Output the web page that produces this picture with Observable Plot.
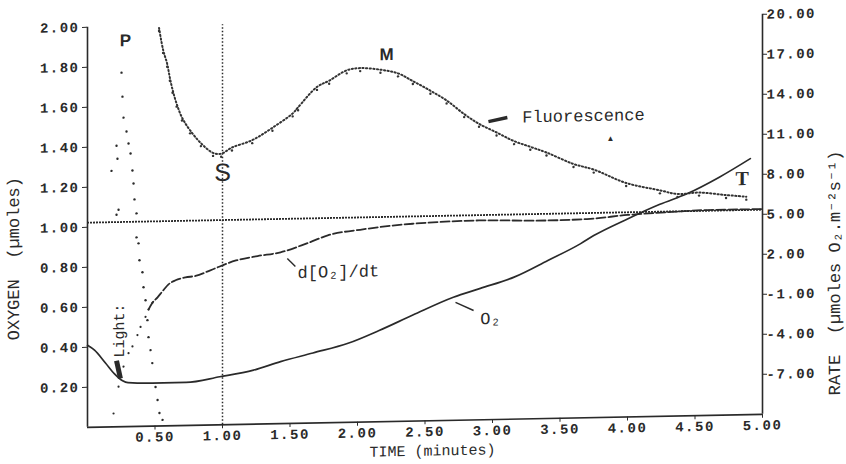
<!DOCTYPE html>
<html><head><meta charset="utf-8">
<script src="https://cdn.jsdelivr.net/npm/d3@7"></script>
<script src="https://cdn.jsdelivr.net/npm/@observablehq/plot@0.6"></script>
<style>
html,body{margin:0;padding:0;background:#fff;}
#chart svg{overflow:visible;display:block;transform:skewY(-1.1deg);transform-origin:0 0;background:#fff;}
#chart svg g[aria-label$="tick label"] text{letter-spacing:1.5px;}
</style></head><body><div id="chart"></div>
<script>
// ---- axis ticks / domains ----
const timeTicks = [0.5, 1, 1.5, 2, 2.5, 3, 3.5, 4, 4.5, 5];
const oxygenTicks = [0.2, 0.4, 0.6, 0.8, 1.0, 1.2, 1.4, 1.6, 1.8, 2.0];
const rateTicks = [-7, -4, -1, 2, 5, 8, 11, 14, 17, 20];
const timeDomain = [0, 5];
const oxygenDomain = [0, 2];
const rateDomain = [-10, 20];

// ---- O2 trace (left axis, µmoles) ----
const o2Time  = [0, 0.052, 0.133, 0.2, 0.26, 0.3, 0.48, 0.73, 0.98, 1.23, 1.43, 1.67, 1.93, 2.16, 2.41, 2.71, 2.91, 3.16, 3.41, 3.65, 3.75, 4.0, 4.24, 4.44, 4.68, 4.91];
const o2Value = [0.41, 0.385, 0.32, 0.265, 0.23, 0.22, 0.215, 0.215, 0.24, 0.27, 0.31, 0.35, 0.395, 0.456, 0.53, 0.615, 0.657, 0.71, 0.79, 0.87, 0.91, 0.99, 1.06, 1.11, 1.19, 1.28];

// ---- d[O2]/dt trace (right axis, rate) ----
const rateTime  = [0.193, 0.23, 0.267, 0.304, 0.333, 0.37, 0.393, 0.43, 0.452, 0.481, 0.519, 0.556, 0.6, 0.652, 0.726, 0.8, 0.91, 1.1, 1.26, 1.43, 1.63, 1.78, 2.04, 2.41, 2.9, 3.4, 3.7, 4.0, 4.3, 4.6, 5.0];
const rateValue = [-9.0, -7.0, -5.5, -4.5, -4.0, -3.15, -2.55, -1.8, -1.25, -0.75, -0.35, 0.1, 0.6, 0.9, 1.1, 1.2, 1.6, 2.3, 2.6, 2.85, 3.5, 4.05, 4.45, 4.8, 4.95, 4.85, 4.9, 5.15, 5.3, 5.4, 5.4];
const rateReference = 5.35;

// ---- Fluorescence trace (plotted on left-axis units) ----
const fluorTime  = [0.53, 0.56, 0.59, 0.61, 0.63, 0.66, 0.70, 0.76, 0.84, 0.93, 0.99, 1.07, 1.22, 1.37, 1.52, 1.56, 1.70, 1.79, 1.92, 2.02, 2.17, 2.30, 2.41, 2.54, 2.66, 2.79, 2.90, 3.03, 3.16, 3.28, 3.40, 3.60, 3.75, 3.99, 4.24, 4.37, 4.53, 4.73, 4.88];
const fluorValue = [1.99, 1.88, 1.81, 1.74, 1.68, 1.61, 1.54, 1.475, 1.41, 1.36, 1.355, 1.385, 1.42, 1.48, 1.55, 1.58, 1.68, 1.71, 1.76, 1.77, 1.76, 1.74, 1.70, 1.65, 1.60, 1.53, 1.48, 1.435, 1.39, 1.36, 1.33, 1.27, 1.24, 1.17, 1.13, 1.11, 1.115, 1.10, 1.09];
const spikeTime  = [0.178, 0.215, 0.23, 0.222, 0.215, 0.252, 0.259, 0.267, 0.289, 0.304, 0.319, 0.333, 0.341, 0.348, 0.363, 0.363, 0.378, 0.385, 0.407, 0.415, 0.43, 0.444, 0.452, 0.467, 0.48, 0.504, 0.519, 0.533, 0.556];
const spikeValue = [1.28, 1.06, 1.085, 1.34, 1.405, 1.77, 1.65, 1.545, 1.475, 1.415, 1.365, 1.28, 1.215, 1.135, 1.065, 0.945, 0.915, 0.83, 0.77, 0.695, 0.63, 0.53, 0.445, 0.38, 0.315, 0.195, 0.13, 0.065, 0.03];
const lightOnTime = 1.0;

// ---- annotation labels ----
const peakLabels = ["P", "M"];
const peakTime = [0.28, 2.215];
const peakLevel = [1.93, 1.835];

// ---- build tables ----
const toOxygen = r => (r - rateDomain[0]) / (rateDomain[1] - rateDomain[0]) * (oxygenDomain[1] - oxygenDomain[0]) + oxygenDomain[0];
const fromOxygen = o => (o - oxygenDomain[0]) / (oxygenDomain[1] - oxygenDomain[0]) * (rateDomain[1] - rateDomain[0]) + rateDomain[0];
const o2 = o2Time.map((t, i) => ({t, v: o2Value[i]}));
const rate = rateTime.map((t, i) => ({t, v: toOxygen(rateValue[i])}));
const fluor = fluorTime.map((t, i) => ({t, v: fluorValue[i]}));
const spike = spikeTime.map((t, i) => ({t, v: spikeValue[i]}));
const peaks = peakLabels.map((s, i) => ({s, t: peakTime[i], v: peakLevel[i]}));

const ink = "#2a2a2a";
const mono = "Liberation Mono, DejaVu Sans Mono, monospace";

const chart = Plot.plot({
  width: 846, height: 464,
  marginLeft: 87, marginRight: 84, marginTop: 28.5, marginBottom: 35.5,
  x: {domain: timeDomain},
  y: {domain: oxygenDomain},
  style: {background: "#fff", color: ink},
  marks: [
    // frame
    Plot.ruleX([timeDomain[0], timeDomain[1]], {y1: oxygenDomain[0], y2: oxygenDomain[1], stroke: ink, strokeWidth: 1.6}),
    Plot.ruleY([oxygenDomain[0]], {x1: timeDomain[0], x2: timeDomain[1], stroke: ink, strokeWidth: 1.6}),
    // light-on marker and reference line
    Plot.ruleX([lightOnTime], {y1: oxygenDomain[0], y2: oxygenDomain[1], stroke: ink, strokeWidth: 1.5, strokeDasharray: "1.5,2"}),
    Plot.ruleY([toOxygen(rateReference)], {x1: timeDomain[0], x2: timeDomain[1], stroke: ink, strokeWidth: 1.8, strokeDasharray: "2,1"}),
    // O2 trace
    Plot.line(o2, {x: "t", y: "v", stroke: ink, strokeWidth: 1.7, curve: "monotone-x"}),
    // rate trace
    Plot.dot(rate.filter(d => d.t < 0.5), {x: "t", y: "v", r: 1.1, fill: ink, stroke: null}),
    Plot.line(rate.filter(d => d.t >= 0.45), {x: "t", y: "v", stroke: ink, strokeWidth: 1.8, strokeDasharray: "9,3", curve: "monotone-x"}),
    // fluorescence
    Plot.line(fluor, {x: "t", y: "v", stroke: "#333", strokeWidth: 2, strokeDasharray: "1.2,2.4", curve: "catmull-rom"}),
    Plot.dot(fluor, {x: "t", y: "v", r: 1.2, fill: "#333", stroke: null, dy: 3}),
    Plot.dot(spike, {x: "t", y: "v", r: 1.2, fill: ink, stroke: null}),
    // axes
    Plot.axisX(timeTicks, {anchor: "bottom", tickSize: 4, tickPadding: 1.5, tickFormat: d => d.toFixed(2), fontSize: 14, fontWeight: "bold", fontFamily: mono, label: null}),
    Plot.axisY(oxygenTicks, {anchor: "left", tickSize: 5, tickPadding: 3, tickFormat: d => d.toFixed(2), fontSize: 14, fontWeight: "bold", fontFamily: mono, label: null}),
    Plot.axisY(rateTicks.map(toOxygen), {anchor: "right", tickSize: 4, tickPadding: 0, tickFormat: d => fromOxygen(d).toFixed(2), fontSize: 14, fontWeight: "bold", fontFamily: mono, label: null}),
    // axis titles
    Plot.text(["OXYGEN  (µmoles)"], {text: d => d, frameAnchor: "left", textAnchor: "middle", dx: -73.5, dy: 30, rotate: -90, fontSize: 17, fontFamily: mono, fill: ink}),
    Plot.text(["RATE  (µmoles O₂.m⁻²s⁻¹)"], {text: d => d, frameAnchor: "right", textAnchor: "middle", dx: 72, dy: 60, rotate: -90, fontSize: 17, fontFamily: mono, fill: ink}),
    Plot.text(["TIME (minutes)"], {text: d => d, frameAnchor: "bottom", textAnchor: "middle", dx: 7.5, dy: 34.8, fontSize: 15, fontFamily: mono, fill: ink}),
    // annotations
    Plot.text(peaks, {x: "t", y: "v", text: "s", fontSize: 17, fontWeight: "bold", fontFamily: "Liberation Sans, sans-serif", fill: ink}),
    Plot.text(["S"], {x: lightOnTime, y: 1.26, text: d => d, fontSize: 25, fontFamily: "Liberation Sans, sans-serif", fill: ink}),
    Plot.text(["T"], {x: 4.85, y: 1.18, text: d => d, fontSize: 20, fontWeight: "bold", fontFamily: "Liberation Serif, serif", fill: ink}),
    Plot.text(["Fluorescence"], {x: 3.22, y: 1.51, text: d => d, textAnchor: "start", fontSize: 17, fontFamily: mono, fill: ink}),
    Plot.link([{x1: 2.97, y1: 1.49, x2: 3.11, y2: 1.509}], {x1: "x1", y1: "y1", x2: "x2", y2: "y2", stroke: ink, strokeWidth: 3.5}),
    Plot.text(["▲"], {x: 3.874, y: 1.394, text: d => d, fontSize: 8, fill: ink}),
    Plot.text(["Light:"], {x: 0.237, y: 0.48, text: d => d, rotate: -90, fontSize: 15, fontFamily: mono, fill: ink}),
    Plot.link([{x1: 0.215, y1: 0.33, x2: 0.244, y2: 0.241}], {x1: "x1", y1: "y1", x2: "x2", y2: "y2", stroke: ink, strokeWidth: 5}),
    Plot.text(["d[O₂]/dt"], {x: 1.556, y: 0.754, text: d => d, textAnchor: "start", fontSize: 17, fontFamily: mono, fill: ink}),
    Plot.link([{x1: 1.48, y1: 0.825, x2: 1.54, y2: 0.784}], {x1: "x1", y1: "y1", x2: "x2", y2: "y2", stroke: ink, strokeWidth: 1.4}),
    Plot.text(["O₂"], {x: 2.91, y: 0.5055, text: d => d, textAnchor: "start", fontSize: 17, fontFamily: mono, fill: ink}),
    Plot.link([{x1: 2.726, y1: 0.589, x2: 2.86, y2: 0.547}], {x1: "x1", y1: "y1", x2: "x2", y2: "y2", stroke: ink, strokeWidth: 1.4})
  ]
});
document.getElementById("chart").appendChild(chart);
</script></body></html>
